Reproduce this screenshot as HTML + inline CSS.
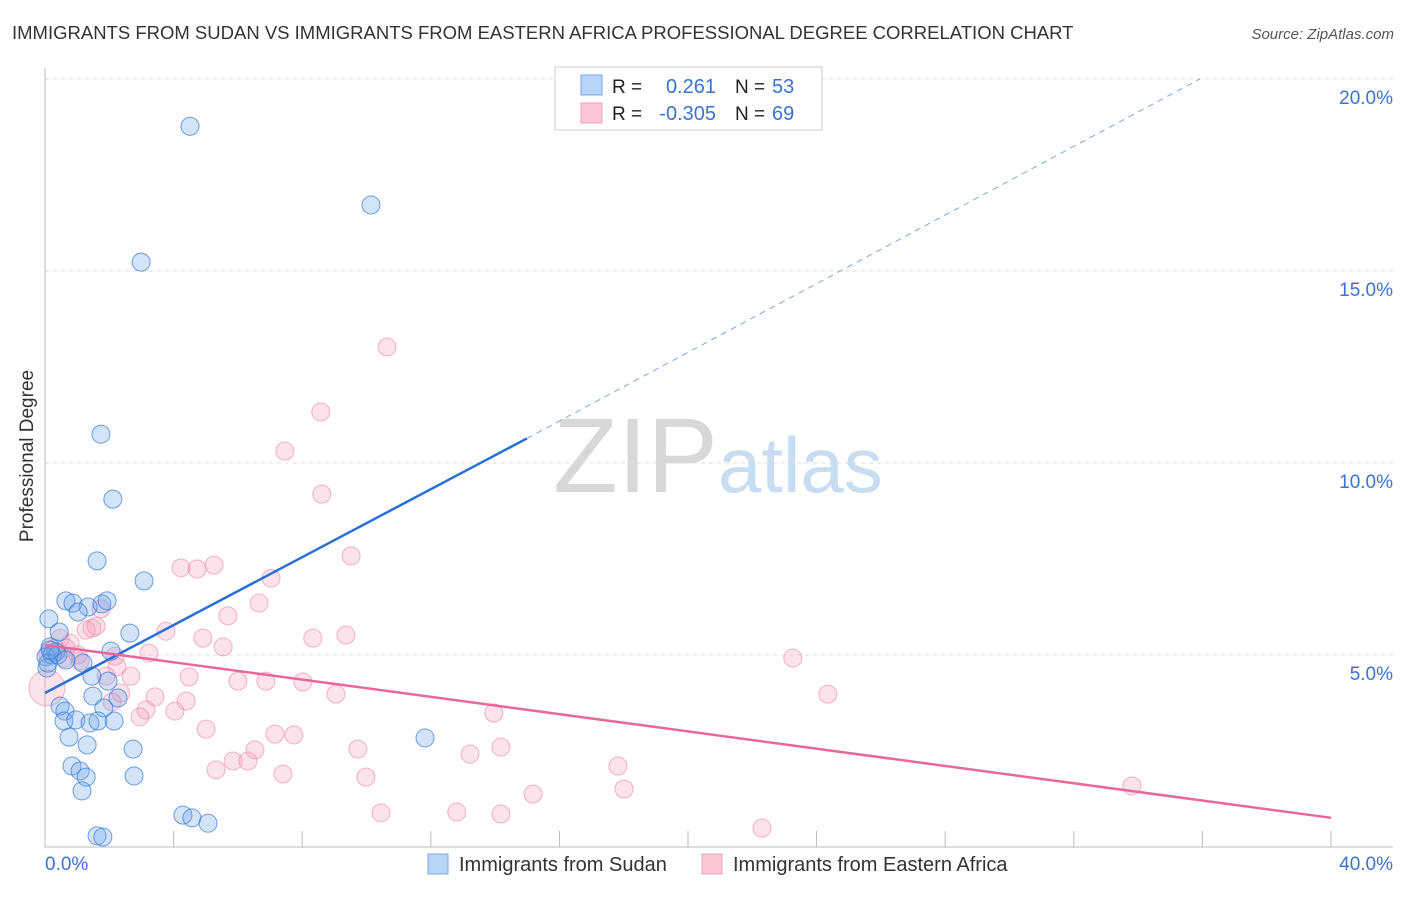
<!DOCTYPE html>
<html><head><meta charset="utf-8"><style>
body{margin:0;background:#fff;font-family:"Liberation Sans",sans-serif}
svg text{font-family:"Liberation Sans",sans-serif}
</style></head><body>
<svg id="chart" width="1406" height="892">
<text x="12" y="39" font-size="18.5" fill="#333">IMMIGRANTS FROM SUDAN VS IMMIGRANTS FROM EASTERN AFRICA PROFESSIONAL DEGREE CORRELATION CHART</text>
<text x="1394" y="39" font-size="15" fill="#555" font-style="italic" text-anchor="end">Source: ZipAtlas.com</text>
<text transform="translate(33,456) rotate(-90)" font-size="19" fill="#333" text-anchor="middle">Professional Degree</text>
<text x="553" y="492" font-size="106" fill="#d8d8d8" font-family="Liberation Serif">ZIP</text>
<text x="718" y="492" font-size="78" fill="#c8dcf2">atlas</text>
<g id="grid"></g><g id="marks"></g>
<g>
<rect x="555" y="67" width="267" height="63" fill="#fff" stroke="#ccc"/>
<rect x="581" y="75" width="21" height="20" fill="#b8d4f6" stroke="#7aa9e6"/>
<rect x="581" y="103" width="21" height="20" fill="#fcc8d8" stroke="#f0a0b8"/>
<text x="612" y="93" font-size="19" fill="#222">R =</text><text x="716" y="93" font-size="20" fill="#3b73d0" text-anchor="end">0.261</text>
<text x="735" y="93" font-size="19" fill="#222">N =</text><text x="772" y="93" font-size="20" fill="#3b73d0">53</text>
<text x="612" y="120" font-size="19" fill="#222">R =</text><text x="716" y="120" font-size="20" fill="#3b73d0" text-anchor="end">-0.305</text>
<text x="735" y="120" font-size="19" fill="#222">N =</text><text x="772" y="120" font-size="20" fill="#3b73d0">69</text>
</g>
<g>
<rect x="428" y="854" width="20" height="20" fill="#b8d4f6" stroke="#7aa9e6"/>
<text x="459" y="871" font-size="20" fill="#333">Immigrants from Sudan</text>
<rect x="702" y="854" width="20" height="20" fill="#fcc8d8" stroke="#f0a0b8"/>
<text x="733" y="871" font-size="20" fill="#333">Immigrants from Eastern Africa</text>
</g>
</svg>
<script>
const xTicks=[0,4,8,12,16,20,24,28,32,36,40];
const yTicks=[5,10,15,20];
const yTickLabels=["5.0%","10.0%","15.0%","20.0%"];
const xEndLabels=["0.0%","40.0%"];
const sudanX=[4.51,10.14,2.99,1.74,2.11,1.62,3.08,0.65,0.87,1.34,1.77,1.93,1.03,0.12,0.44,2.64,0.16,0.34,0.03,0.22,2.05,0.06,0.09,1.18,1.46,1.96,1.49,2.27,1.83,0.47,0.62,0.59,0.96,1.40,1.65,2.15,0.75,1.31,2.74,0.84,1.09,1.28,2.77,1.15,11.82,4.29,4.57,5.07,1.62,1.80,0.40,0.65,0.16];
const sudanY=[18.77,16.72,15.23,10.75,9.06,7.45,6.93,6.41,6.35,6.25,6.33,6.41,6.12,5.94,5.60,5.57,5.21,5.08,4.95,5.00,5.10,4.66,4.79,4.79,4.45,4.32,3.93,3.88,3.62,3.67,3.54,3.28,3.31,3.23,3.28,3.28,2.86,2.66,2.55,2.11,1.98,1.82,1.85,1.46,2.84,0.83,0.76,0.62,0.29,0.26,5.00,4.87,5.13];
const eafX=[10.64,8.58,7.46,8.61,9.52,4.23,4.73,5.26,7.03,6.66,5.69,1.74,3.76,1.46,1.28,1.59,0.47,0.78,4.91,8.33,9.36,5.54,3.23,0.65,1.03,2.18,2.24,1.09,0.06,1.90,2.67,4.48,6.00,6.87,8.02,9.05,3.42,4.39,2.36,2.08,3.14,4.04,2.95,5.01,7.15,7.74,6.53,9.73,13.22,14.18,5.85,6.31,5.32,7.40,9.98,17.82,18.01,15.18,10.45,12.81,14.18,22.30,23.26,24.35,33.81,13.96,0.09,0.31,0.59];
const eafY=[13.02,11.33,10.31,9.19,7.58,7.27,7.24,7.34,7.00,6.35,6.02,6.20,5.62,5.70,5.65,5.75,5.44,5.31,5.44,5.44,5.52,5.21,5.05,5.18,5.00,4.97,4.69,4.84,4.14,4.45,4.45,4.43,4.32,4.32,4.30,3.98,3.91,3.80,4.01,3.78,3.57,3.54,3.39,3.07,2.94,2.92,2.53,2.55,2.42,2.60,2.24,2.24,2.01,1.90,1.82,2.11,1.51,1.38,0.89,0.91,0.86,0.49,4.92,3.98,1.59,3.49,5.03,5.18,4.92];
const sudanTrend=[[0,4.01],[14.99,10.64],[35.92,20.0]];
const eafTrend=[[0,5.26],[40,0.76]];
const NS="http://www.w3.org/2000/svg";
const X=v=>45+v/40*1286, Y=v=>847-v/5*192;
function mk(tag,attrs,parent){const e=document.createElementNS(NS,tag);for(const k in attrs)e.setAttribute(k,attrs[k]);parent.appendChild(e);return e;}
const grid=document.getElementById('grid'),marks=document.getElementById('marks');
yTicks.forEach((t,i)=>{
 const l=mk('line',{x1:45,x2:1393,y1:Y(t),y2:Y(t),stroke:'#ddd','stroke-dasharray':'4,4'},grid);
 
 
 const tx=mk('text',{x:1393,y:Y(t)+25,'font-size':19,fill:'#3b73d0','text-anchor':'end'},grid);tx.textContent=yTickLabels[i];
 
 
});
const ax=mk('path',{d:`M45,68V${Y(0)}H1393`,stroke:'#bbb',fill:'none'},grid);


xTicks.forEach(t=>{const l=mk('line',{x1:X(t),x2:X(t),y1:831,y2:847,stroke:'#bbb'},grid);
 
 });
const xl0=mk('text',{x:45,y:870,'font-size':19,fill:'#3b73d0'},grid);xl0.textContent=xEndLabels[0];


const xl1=mk('text',{x:1393,y:870,'font-size':19,fill:'#3b73d0','text-anchor':'end'},grid);xl1.textContent=xEndLabels[1];


eafX.forEach((v,i)=>{const c=mk('circle',{cx:X(v),cy:Y(eafY[i]),r:(i==28?18:9),fill:'rgba(245,160,190,0.3)',stroke:'rgba(235,130,165,0.6)'},marks);
 
 });
sudanX.forEach((v,i)=>{const c=mk('circle',{cx:X(v),cy:Y(sudanY[i]),r:9,fill:'rgba(110,165,235,0.3)',stroke:'rgba(50,120,215,0.7)'},marks);
 
 });
const t1=mk('line',{x1:X(sudanTrend[0][0]),y1:Y(sudanTrend[0][1]),x2:X(sudanTrend[1][0]),y2:Y(sudanTrend[1][1]),stroke:'#2a6fd6','stroke-width':2.5},marks);


const t2=mk('line',{x1:X(sudanTrend[1][0]),y1:Y(sudanTrend[1][1]),x2:X(sudanTrend[2][0]),y2:Y(sudanTrend[2][1]),stroke:'#7aa9e6','stroke-width':1,'stroke-dasharray':'6,5'},marks);


const t3=mk('line',{x1:X(eafTrend[0][0]),y1:Y(eafTrend[0][1]),x2:X(eafTrend[1][0]),y2:Y(eafTrend[1][1]),stroke:'#e8689a','stroke-width':2.5},marks);


</script>
</body></html>
